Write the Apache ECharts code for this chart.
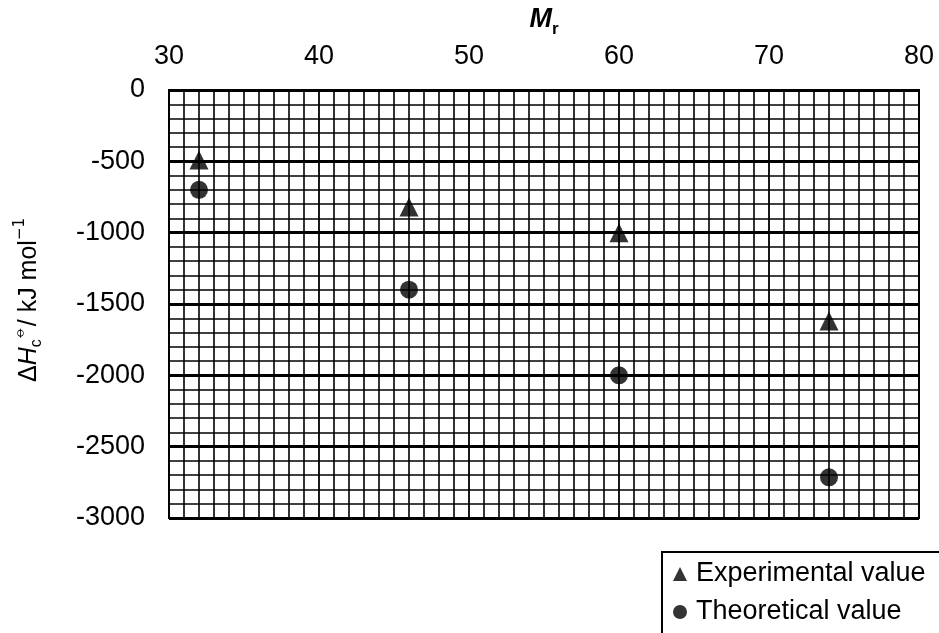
<!DOCTYPE html>
<html>
<head>
<meta charset="utf-8">
<script src="https://cdn.jsdelivr.net/npm/echarts@6/dist/echarts.min.js"></script>
<style>
html,body{margin:0;padding:0;background:#fff;}
#c{width:939px;height:633px;}
</style>
</head>
<body>
<div id="c"></div>
<script>
const molarMass = [32, 46, 60, 74];
const experimental = [-490, -820, -1000, -1620];
const theoretical = [-700, -1400, -2000, -2715];
const seriesNames = ['Experimental value', 'Theoretical value'];

const FONT = '"Liberation Sans", Arial, sans-serif';
const chart = echarts.init(document.getElementById('c'), null, {renderer: 'canvas'});
const pair = (xs, ys) => xs.map((x, i) => [x, ys[i]]);

chart.setOption({
  backgroundColor: '#fff',
  animation: false,
  grid: {left: 169, right: 20, top: 90, bottom: 115, show: true, borderColor: '#000', borderWidth: 2, backgroundColor: '#fff'},
  graphic: [{
    type: 'rect', left: 661, top: 551, z: 0,
    shape: {width: 320, height: 120},
    style: {fill: '#fff', stroke: '#000', lineWidth: 2}
  }],
  legend: {
    orient: 'vertical', left: 673, top: 559, z: 10,
    padding: 0,
    itemGap: 8, itemWidth: 14, itemHeight: 14,
    textStyle: {fontFamily: FONT, fontSize: 27, color: '#000', lineHeight: 30, padding: [0, 0, 0, 4]},
    data: [
      {name: seriesNames[0], icon: 'triangle', itemStyle: {color: '#000'}},
      {name: seriesNames[1], icon: 'circle', itemStyle: {color: '#000'}}
    ]
  },
  xAxis: {
    type: 'value', position: 'top', min: 30, max: 80, interval: 10,
    name: '{m|M}{s|r}', nameLocation: 'middle', nameGap: 50,
    nameTextStyle: {padding: [0, 0, 0, 0], rich: {
      m: {fontFamily: FONT, fontSize: 27, fontWeight: 'bold', fontStyle: 'italic', color: '#000', lineHeight: 30, verticalAlign: 'bottom'},
      s: {fontFamily: FONT, fontSize: 17, fontWeight: 'bold', color: '#000', lineHeight: 30, verticalAlign: 'bottom', padding: [0,0,-5,0]}
    }},
    axisLine: {show: true, lineStyle: {color: '#000', width: 2}},
    axisTick: {show: false},
    axisLabel: {fontFamily: FONT, fontSize: 27, color: '#000', margin: 20},
    splitLine: {show: true, lineStyle: {color: '#000', width: 1.8}},
    minorTick: {show: false, splitNumber: 10},
    minorSplitLine: {show: true, lineStyle: {color: '#000', width: 1.6}}
  },
  yAxis: {
    type: 'value', min: -3000, max: 0, interval: 500,
    name: '{d|Δ}{i|H}{sub|c}{sup|⦵}{d|/ kJ mol}{sup|−1}',
    nameLocation: 'middle', nameGap: 124, nameRotate: 90,
    nameTextStyle: {padding: [0, 0, 0, 8], rich: {
      d: {fontFamily: FONT, fontSize: 25, color: '#000', lineHeight: 32, verticalAlign: 'middle'},
      i: {fontFamily: FONT, fontSize: 25, fontStyle: 'italic', color: '#000', lineHeight: 32, verticalAlign: 'middle'},
      sub: {fontFamily: FONT, fontSize: 16, color: '#000', lineHeight: 32, verticalAlign: 'bottom'},
      sup: {fontFamily: '"DejaVu Sans", ' + FONT, fontSize: 15, color: '#000', lineHeight: 32, verticalAlign: 'top'}
    }},
    axisLine: {show: true, lineStyle: {color: '#000', width: 2}},
    axisTick: {show: false},
    axisLabel: {fontFamily: FONT, fontSize: 27, color: '#000', margin: 24, formatter: v => String(v)},
    splitLine: {show: true, lineStyle: {color: '#000', width: 3}},
    minorTick: {show: false, splitNumber: 5},
    minorSplitLine: {show: true, lineStyle: {color: '#000', width: 1.6}}
  },
  series: [
    {name: seriesNames[0], type: 'scatter', symbol: 'triangle', symbolSize: 19,
     itemStyle: {color: '#000'}, data: pair(molarMass, experimental), z: 5},
    {name: seriesNames[1], type: 'scatter', symbol: 'circle', symbolSize: 18,
     itemStyle: {color: '#000'}, data: pair(molarMass, theoretical), z: 5}
  ]
});
</script>
</body>
</html>
